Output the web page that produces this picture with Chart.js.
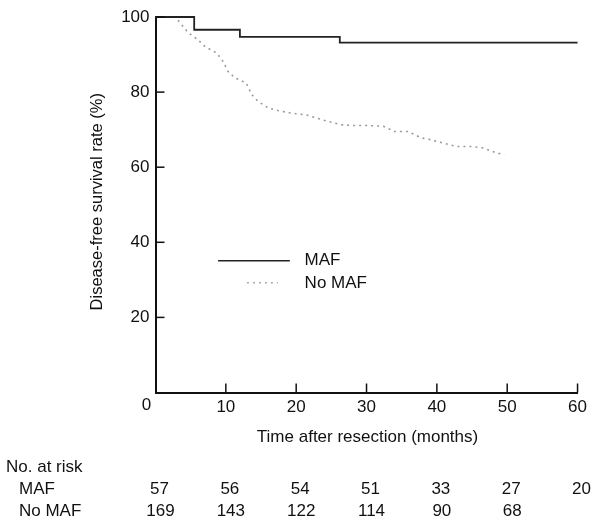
<!DOCTYPE html>
<html>
<head>
<meta charset="utf-8">
<script src="https://cdn.jsdelivr.net/npm/chart.js@4"></script>
<style>
  html, body { margin: 0; padding: 0; background: #fff; }
  #wrap { width: 592px; height: 530px; position: relative; }
</style>
</head>
<body>
<div id="wrap"><canvas id="c" width="592" height="530"></canvas></div>
<script>
// ---- Data ----
const mafMonths   = [0, 5.5, 12, 26.2, 60];
const mafRates    = [100, 96.6, 94.7, 93.2, 93.2];

const noMafMonths = [0, 2.8, 3.7, 4.6, 6, 7, 8.7, 9.6, 10.3, 11.3, 12.9, 13.7, 14.6, 16, 17.4, 19.3, 21.5, 22.9, 24.5, 26.4, 28.1, 30.2, 32.4, 34, 35.9, 37.8, 39.2, 40.9, 42.8, 44.9, 46.6, 48.5, 49.6];
const noMafRates  = [100, 100, 98, 95.9, 94, 92.2, 90.4, 88.2, 85.5, 83.8, 82.4, 79.3, 77.5, 75.8, 75.1, 74.4, 73.9, 73.1, 72.2, 71.3, 71.1, 71.1, 70.9, 69.5, 69.5, 67.8, 67.3, 66.4, 65.5, 65.5, 65.1, 63.8, 63.3];

const xTicks = [0, 10, 20, 30, 40, 50, 60];
const yTicks = [0, 20, 40, 60, 80, 100];

const riskMonths = [0, 10, 20, 30, 40, 50, 60];
const riskMAF    = [57, 56, 54, 51, 33, 27, 20];
const riskNoMAF  = [169, 143, 122, 114, 90, 68];

const seriesNames = ['MAF', 'No MAF'];
const xTitle = 'Time after resection (months)';
const yTitle = 'Disease-free survival rate (%)';
const riskTitle = 'No. at risk';

const FONT = '"Liberation Sans", Arial, Helvetica, sans-serif';

function toXY(xs, ys) { return xs.map((x, i) => ({ x: x, y: ys[i] })); }

const decorPlugin = {
  id: 'decor',
  afterDraw(chart) {
    const ctx = chart.ctx;
    const xs = chart.scales.x, ys = chart.scales.y;
    const area = chart.chartArea;
    ctx.save();
    // inward tick marks
    ctx.strokeStyle = '#111';
    ctx.lineWidth = 1.5;
    xTicks.forEach(v => {
      if (v === 0) return;
      const px = xs.getPixelForValue(v);
      ctx.beginPath(); ctx.moveTo(px, area.bottom); ctx.lineTo(px, area.bottom - 9); ctx.stroke();
    });
    yTicks.forEach(v => {
      if (v === 0) return;
      const py = ys.getPixelForValue(v);
      ctx.beginPath(); ctx.moveTo(area.left, py); ctx.lineTo(area.left + 9, py); ctx.stroke();
    });

    // origin label
    ctx.font = '17px ' + FONT;
    ctx.fillStyle = '#111';
    ctx.textBaseline = 'middle';
    ctx.textAlign = 'center';
    ctx.fillText(String(xTicks[0]), xs.getPixelForValue(xTicks[0]) - 9, area.bottom + 13);

    // legend
    ctx.textAlign = 'left';
    const lyMAF = ys.getPixelForValue(35.1), lyNo = ys.getPixelForValue(29.2);
    ctx.strokeStyle = '#222'; ctx.lineWidth = 1.5;
    ctx.beginPath(); ctx.moveTo(xs.getPixelForValue(8.9), lyMAF); ctx.lineTo(xs.getPixelForValue(19.1), lyMAF); ctx.stroke();
    ctx.strokeStyle = '#aaa'; ctx.setLineDash([2, 4]);
    ctx.beginPath(); ctx.moveTo(xs.getPixelForValue(13.0), lyNo); ctx.lineTo(xs.getPixelForValue(17.4), lyNo); ctx.stroke();
    ctx.setLineDash([]);
    const tx = xs.getPixelForValue(21.2);
    ctx.fillText(seriesNames[0], tx, lyMAF);
    ctx.fillText(seriesNames[1], tx, lyNo);

    // axis titles
    ctx.textAlign = 'center';
    ctx.fillText(xTitle, (area.left + area.right) / 2 + 1, 437);
    ctx.save();
    ctx.font = '16.5px ' + FONT;
    ctx.translate(97, (area.top + area.bottom) / 2 - 3);
    ctx.rotate(-Math.PI / 2);
    ctx.fillText(yTitle, 0, 0);
    ctx.restore();

    // risk table
    ctx.textAlign = 'left';
    ctx.fillText(riskTitle, 6, 467);
    ctx.fillText(seriesNames[0], 19, 489);
    ctx.fillText(seriesNames[1], 19, 511);
    ctx.textAlign = 'center';
    riskMAF.forEach((n, i) => ctx.fillText(String(n), xs.getPixelForValue(riskMonths[i]) + 4, 489));
    riskNoMAF.forEach((n, i) => ctx.fillText(String(n), xs.getPixelForValue(riskMonths[i]) + 5, 511));
    ctx.restore();
  }
};

new Chart(document.getElementById('c'), {
  type: 'line',
  data: {
    datasets: [
      {
        label: seriesNames[0],
        data: toXY(mafMonths, mafRates),
        stepped: 'before',
        borderColor: '#222',
        borderWidth: 1.8,
        pointRadius: 0,
        fill: false,
        clip: false
      },
      {
        label: seriesNames[1],
        data: toXY(noMafMonths, noMafRates),
        borderColor: '#9a9a9a',
        borderWidth: 1.6,
        borderDash: [2, 4],
        pointRadius: 0,
        tension: 0,
        fill: false,
        clip: false
      }
    ]
  },
  plugins: [decorPlugin],
  options: {
    responsive: false,
    animation: false,
    events: [],
    layout: { padding: { top: 17, right: 14, left: 0, bottom: 0 } },
    plugins: { legend: { display: false }, tooltip: { enabled: false } },
    scales: {
      x: {
        type: 'linear',
        min: 0, max: 60,
        afterFit(s) { s.height = 137.5; },
        afterBuildTicks(s) { s.ticks = xTicks.map(v => ({ value: v })); },
        grid: { display: false, drawTicks: false },
        border: { display: true, color: '#111', width: 2 },
        ticks: {
          padding: 5, color: '#111', font: { family: FONT, size: 17 }, maxRotation: 0,
          callback: (v) => v === 0 ? '' : String(v)
        }
      },
      y: {
        type: 'linear',
        min: 0, max: 100,
        afterFit(s) { s.width = 155.5; },
        afterBuildTicks(s) { s.ticks = yTicks.map(v => ({ value: v })); },
        grid: { display: false, drawTicks: false },
        border: { display: true, color: '#111', width: 2 },
        ticks: {
          padding: 6, color: '#111', font: { family: FONT, size: 17 },
          callback: (v) => v === 0 ? '' : String(v)
        }
      }
    }
  }
});
</script>
</body>
</html>
